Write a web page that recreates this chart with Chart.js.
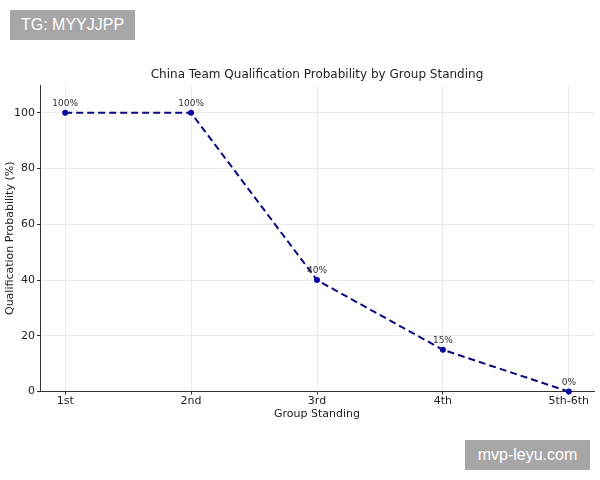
<!DOCTYPE html>
<html lang="en">
<head>
<meta charset="UTF-8">
<title>China Team Qualification Probability</title>
<script src="https://cdn.jsdelivr.net/npm/chart.js"></script>
<style>
  html, body { margin: 0; padding: 0; background: #fff; }
  .wrap { position: relative; width: 600px; height: 480px; }
  .tag {
    position: absolute; background: #a6a6a6; color: #fff;
    font-family: "Liberation Sans", Arial, sans-serif; font-size: 16px;
    line-height: 30px; text-align: center;
  }
  #tg { left: 10px; top: 10px; width: 125px; height: 30px; }
  #site { left: 465px; top: 440px; width: 125px; height: 30px; }
</style>
</head>
<body>
<div class="wrap">
  <canvas id="grafico" width="600" height="480"></canvas>
  <div class="tag" id="tg">TG: MYYJJPP</div>
  <div class="tag" id="site">mvp-leyu.com</div>
</div>

<script>
// dados
const posicoes = ['1st', '2nd', '3rd', '4th', '5th-6th'];
const probabilidade = [100, 100, 40, 15, 0];
const rotulos = ['100%', '100%', '40%', '15%', '0%'];
const ticksY = [0, 20, 40, 60, 80, 100];
const titulo = 'China Team Qualification Probability by Group Standing';

const pontos = probabilidade.map((v, i) => ({ x: i, y: v }));

// título centrado na área do gráfico + rótulos em cima dos pontos
const rotulosPlugin = {
  id: 'rotulos',
  afterDatasetsDraw(chart) {
    const ctx = chart.ctx;
    const area = chart.chartArea;
    const meta = chart.getDatasetMeta(0);
    ctx.save();
    ctx.textAlign = 'center';
    ctx.textBaseline = 'middle';
    ctx.font = '12px "DejaVu Sans", sans-serif';
    ctx.fillStyle = '#222';
    ctx.fillText(titulo, (area.left + area.right) / 2, 75);
    ctx.font = '9px "DejaVu Sans", sans-serif';
    ctx.fillStyle = '#333';
    meta.data.forEach((p, i) => {
      ctx.fillText(rotulos[i], p.x, p.y - 9);
    });
    ctx.restore();
  }
};

new Chart(document.getElementById('grafico').getContext('2d'), {
  type: 'line',
  data: {
    datasets: [{
      label: 'Qualification Probability',
      data: pontos,
      borderColor: '#0a0a80',
      backgroundColor: '#0a0aa0',
      borderWidth: 2,
      borderDash: [7, 4],
      pointRadius: 3,
      pointBorderWidth: 0,
      pointHoverRadius: 3,
      clip: false,
      tension: 0
    }]
  },
  options: {
    responsive: false,
    animation: false,
    layout: { padding: { left: 0, right: 6, top: 85, bottom: 59 } },
    plugins: {
      legend: { display: false },
      tooltip: { enabled: false },
      title: { display: false }
    },
    scales: {
      x: {
        type: 'linear',
        min: -0.2,
        max: 4.2,
        afterBuildTicks(s) { s.ticks = posicoes.map((_, i) => ({ value: i })); },
        ticks: {
          callback: v => posicoes[v] ?? '',
          color: '#222',
          padding: 0,
          maxRotation: 0,
          font: { family: '"DejaVu Sans", sans-serif', size: 11 }
        },
        grid: { color: 'rgba(0,0,0,0.08)', tickLength: 3, tickColor: '#333' },
        border: { color: '#333', width: 1 },
        title: {
          display: true,
          text: 'Group Standing',
          color: '#222',
          padding: { top: 0, bottom: 0 },
          font: { family: '"DejaVu Sans", sans-serif', size: 11 }
        }
      },
      y: {
        min: 0,
        max: 110,
        afterBuildTicks(s) { s.ticks = ticksY.map(v => ({ value: v })); },
        afterFit(s) { s.width = 40; },
        ticks: {
          color: '#222',
          padding: 2,
          font: { family: '"DejaVu Sans", sans-serif', size: 11 }
        },
        grid: { color: 'rgba(0,0,0,0.08)', tickLength: 3, tickColor: '#333' },
        border: { color: '#333', width: 1 },
        title: {
          display: true,
          text: 'Qualification Probability (%)',
          color: '#222',
          padding: { top: 4, bottom: 4 },
          font: { family: '"DejaVu Sans", sans-serif', size: 11 }
        }
      }
    }
  },
  plugins: [rotulosPlugin]
});
</script>
</body>
</html>
